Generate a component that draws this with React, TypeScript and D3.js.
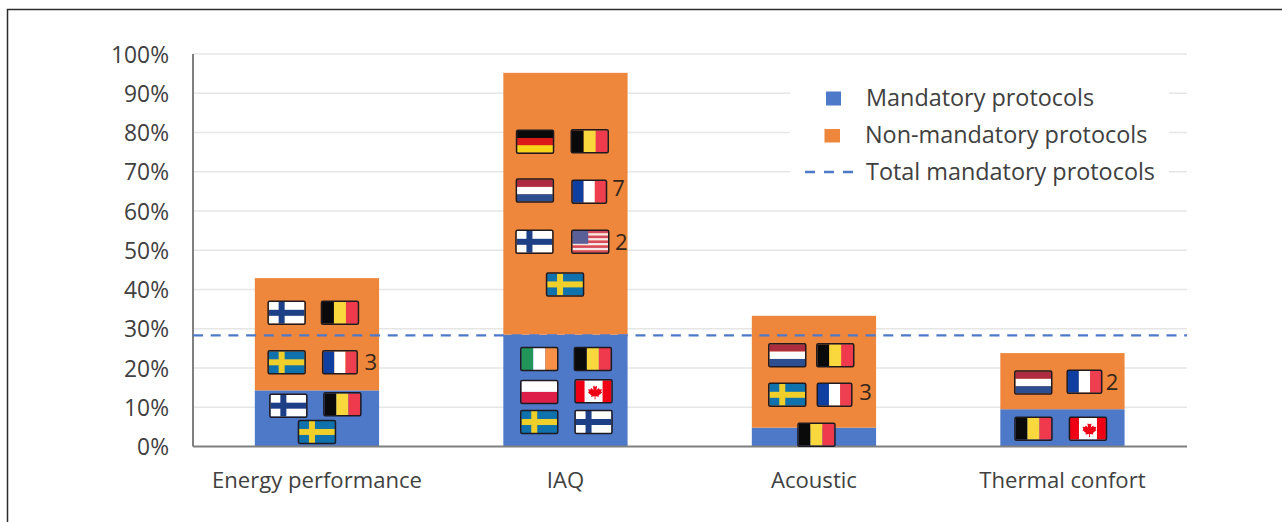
import React from "react";
import * as d3 from "d3";

const categories = ["Energy performance", "IAQ", "Acoustic", "Thermal confort"];
const mandatory = [14.3, 28.5, 4.8, 9.5];
const nonMandatory = [28.6, 66.7, 28.5, 14.3];
const totalMandatory = 28.3;
const yTicks = [0, 10, 20, 30, 40, 50, 60, 70, 80, 90, 100];
const legendLabels = ["Mandatory protocols", "Non-mandatory protocols", "Total mandatory protocols"];

// Flag badges per category: country code, offset from bar centre (px), vertical position (axis %).
type Badge = [string, number, number];
const badges: Badge[][] = [
  [["FI", -30.3, 34.06], ["BE", 23, 34.06], ["SE", -30.3, 21.45], ["FR", 23, 21.45], ["FI", -28.6, 10.4], ["BE", 25.4, 10.75], ["SE", 0, 3.7]],
  [["DE", -30.4, 77.66], ["BE", 24.3, 77.76], ["NL", -30.6, 65.2], ["FR", 23.8, 64.9], ["FI", -31, 52.15], ["US", 24.8, 52.15], ["SE", -0.4, 41.3],
   ["IE", -26.2, 22.3], ["BE", 27.4, 22.3], ["PL", -26.2, 13.9], ["CA", 28.1, 14.1], ["SE", -26.2, 6.24], ["FI", 28.1, 6.24]],
  [["NL", -26.7, 23.24], ["BE", 21.3, 23.24], ["SE", -26.7, 13.17], ["FR", 20.6, 13.17], ["BE", 2.5, 3]],
  [["NL", -29.2, 16.3], ["FR", 22, 16.5], ["BE", -29, 4.53], ["CA", 25.5, 4.53]],
];

// Small counts written beside some flags: text, offset from bar centre (px), vertical position (axis %).
type Count = [string, number, number];
const counts: Count[][] = [
  [["3", 53.9, 21.6]],
  [["7", 53.1, 65.95], ["2", 55.8, 52.15]],
  [["3", 51.6, 13.95]],
  [["2", 49.7, 16.3]],
];

const BLUE = "#4e79c9";
const ORANGE = "#ee863b";
const FONT = "'Open Sans', 'Noto Sans', sans-serif";
const TEXT = "#404040";

const x = d3.scaleBand<string>().domain(categories).range([192.7, 1186.7]).paddingInner(0.5).paddingOuter(0.25);
const y = d3.scaleLinear().domain([0, 100]).range([446.5, 54]);

const W = 36;
const H = 22;
const FLAG_WIDTH: Record<string, number> = { FR: 33.5 };

function Stripes({ colors, vertical }: { colors: string[]; vertical?: boolean }) {
  const step = d3.scaleBand<number>().domain(d3.range(colors.length)).range([0, vertical ? W : H]);
  return (
    <>
      {colors.map((c, i) =>
        vertical ? (
          <rect key={i} x={step(i)} y={0} width={step.bandwidth()} height={H} fill={c} />
        ) : (
          <rect key={i} x={0} y={step(i)} width={W} height={step.bandwidth()} fill={c} />
        )
      )}
    </>
  );
}

function Nordic({ field, cross }: { field: string; cross: string }) {
  return (
    <>
      <rect width={W} height={H} fill={field} />
      <rect x={10} width={6} height={H} fill={cross} />
      <rect y={8} width={W} height={6} fill={cross} />
    </>
  );
}

function FlagArt({ code }: { code: string }) {
  switch (code) {
    case "FI":
      return <Nordic field="#ffffff" cross="#1c3f86" />;
    case "SE":
      return <Nordic field="#0f72ac" cross="#f0cf2a" />;
    case "BE":
      return <Stripes vertical colors={["#0a0a0a", "#f8d83c", "#ee3a4c"]} />;
    case "FR":
      return <Stripes vertical colors={["#0f3fa0", "#ffffff", "#ee3f50"]} />;
    case "IE":
      return <Stripes vertical colors={["#22955a", "#ffffff", "#f89048"]} />;
    case "DE":
      return <Stripes colors={["#0a0a0a", "#dc1a1a", "#f8d416"]} />;
    case "NL":
      return <Stripes colors={["#ae2c40", "#ffffff", "#2d4f92"]} />;
    case "PL":
      return <Stripes colors={["#ffffff", "#dc1e48"]} />;
    case "CA":
      return (
        <>
          <rect width={W} height={H} fill="#ffffff" />
          <rect width={9} height={H} fill="#f00014" />
          <rect x={W - 9} width={9} height={H} fill="#f00014" />
          <path
            d="M18 3.5l1.6 3 2-.8-.7 4.2 2.4-2 .7 1.5 2.4-.3-.8 2.6 1 .6-3.6 3 .5 1.4-3.6-.5.1 3h-1l.1-3-3.6.5.5-1.4-3.6-3 1-.6-.8-2.6 2.4.3.7-1.5 2.4 2-.7-4.2 2 .8z"
            fill="#f00014"
          />
        </>
      );
    case "US":
      return (
        <>
          <Stripes colors={["#d8485c", "#f6e8e8", "#d8485c", "#f6e8e8", "#d8485c", "#f6e8e8", "#d8485c", "#f6e8e8", "#d8485c"]} />
          <rect width={16} height={13} fill="#5b5f98" />
        </>
      );
    default:
      return null;
  }
}

function Flag({ code, cx, cy }: { code: string; cx: number; cy: number }) {
  const w = FLAG_WIDTH[code] ?? W;
  return (
    <g transform={`translate(${cx - w / 2},${cy - H / 2})`}>
      <svg x={0} y={0} width={w} height={H} viewBox={`0 0 ${W} ${H}`} preserveAspectRatio="none">
        <FlagArt code={code} />
      </svg>
      <rect x={-0.5} y={-0.5} width={w + 1} height={H + 1} rx={1.5} fill="none" stroke="#1e1a20" strokeWidth={1.5} />
    </g>
  );
}

export default function App() {
  const band = x.bandwidth();
  return (
    <svg
      width={1282}
      height={522}
      style={{ position: "absolute", left: 0, top: 0, display: "block", background: "#ffffff" }}
      fontFamily={FONT}
    >
      <path d="M7.5 522V9.5H1282" fill="none" stroke="#2c2c2c" strokeWidth={1.5} />

      {yTicks.slice(1).map((t) => (
        <line key={t} x1={193} x2={1187} y1={y(t)} y2={y(t)} stroke="#e6e6e6" strokeWidth={1.5} />
      ))}

      {yTicks.map((t) => (
        <text key={t} x={169} y={y(t) + 0.5} dy="0.36em" textAnchor="end" fontSize={22.8} fill={TEXT}>
          {t}%
        </text>
      ))}

      {categories.map((c, i) => (
        <g key={c}>
          <rect x={x(c)} y={y(mandatory[i])} width={band} height={y(0) - y(mandatory[i])} fill={BLUE} />
          <rect
            x={x(c)}
            y={y(mandatory[i] + nonMandatory[i])}
            width={band}
            height={y(mandatory[i]) - y(mandatory[i] + nonMandatory[i])}
            fill={ORANGE}
          />
          <text x={x(c)! + band / 2} y={480} dy="0.36em" textAnchor="middle" fontSize={22.1} fill={TEXT}>
            {c}
          </text>
        </g>
      ))}

      <line x1={193} x2={193} y1={54} y2={446.5} stroke="#7f7f7f" strokeWidth={2} />
      <line x1={193} x2={1187} y1={446.5} y2={446.5} stroke="#7f7f7f" strokeWidth={2} />
      <line
        x1={193}
        x2={1187}
        y1={y(totalMandatory)}
        y2={y(totalMandatory)}
        stroke={BLUE}
        strokeWidth={2.4}
        strokeDasharray="10 7.7"
      />

      {categories.map((c, i) => {
        const centre = x(c)! + band / 2;
        return (
          <g key={c}>
            {badges[i].map(([code, dx, pos], j) => (
              <Flag key={j} code={code} cx={centre + dx} cy={y(pos)} />
            ))}
            {counts[i].map(([label, dx, pos], j) => (
              <text key={j} x={centre + dx} y={y(pos)} dy="0.36em" textAnchor="middle" fontSize={22} fill="#33261c">
                {label}
              </text>
            ))}
          </g>
        );
      })}

      <rect x={790} y={78} width={379} height={110} fill="#ffffff" />
      <rect x={826} y={91.5} width={15} height={14} fill={BLUE} />
      <rect x={824.5} y={129} width={15.5} height={13.5} fill={ORANGE} />
      <line x1={805} x2={853} y1={172} y2={172} stroke={BLUE} strokeWidth={2.4} strokeDasharray="10 9" />
      {legendLabels.map((label, i) => (
        <text key={label} x={i === 1 ? 865 : 866} y={98 + i * 37} dy="0.36em" fontSize={23.4} fill={TEXT}>
          {label}
        </text>
      ))}
    </svg>
  );
}
